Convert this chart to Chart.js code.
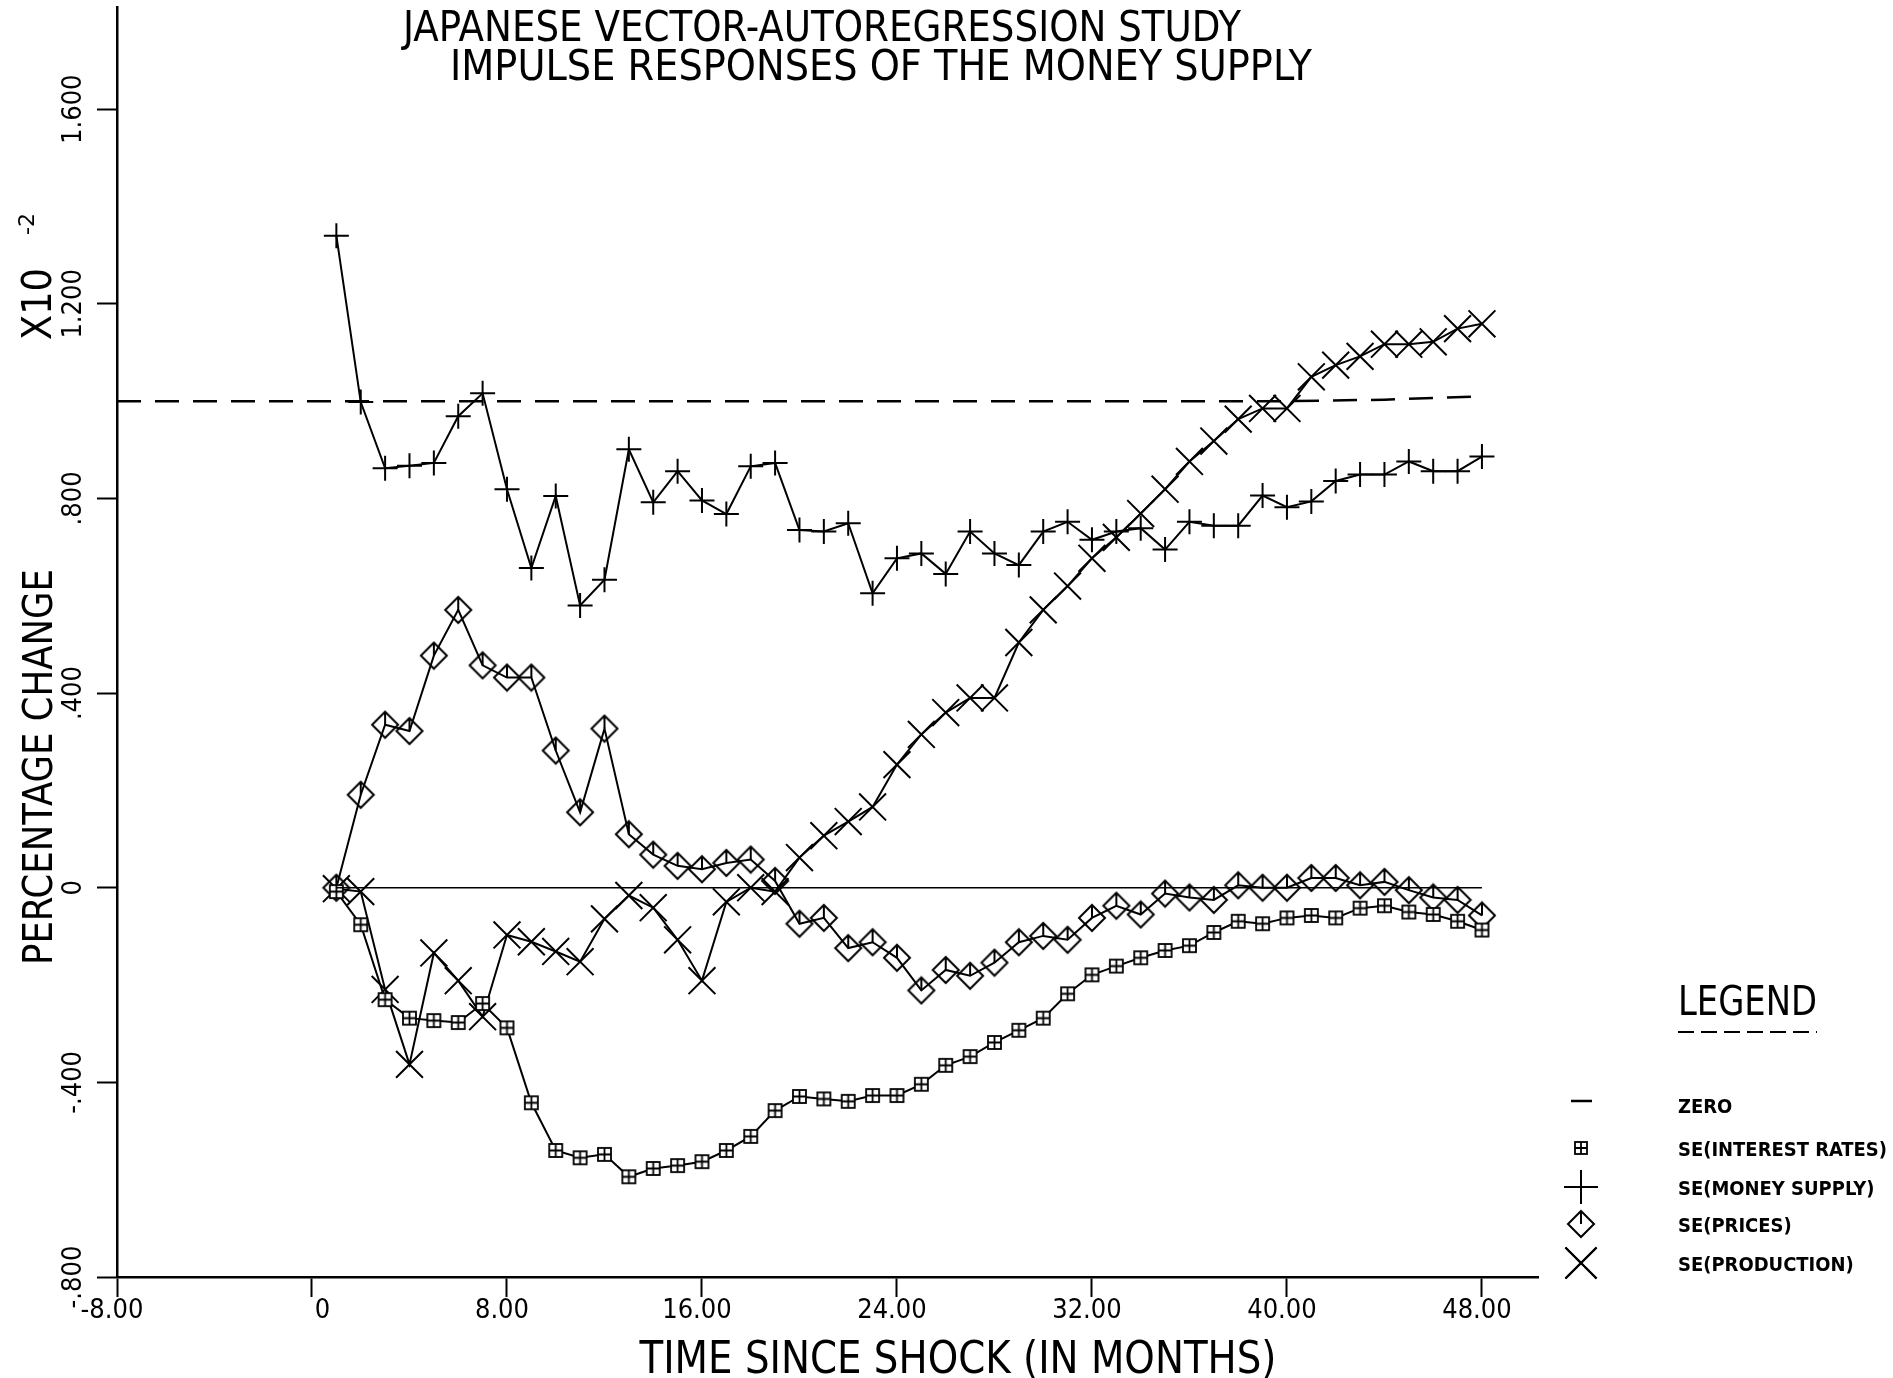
<!DOCTYPE html>
<html>
<head>
<meta charset="utf-8">
<title>Japanese Vector-Autoregression Study</title>
<script src="https://cdn.jsdelivr.net/npm/chart.js@4.4.1/dist/chart.umd.min.js"></script>
<style>
  html, body { margin: 0; padding: 0; background: #fff; }
  #wrap { width: 1893px; height: 1378px; position: relative; }
</style>
</head>
<body>
<div id="wrap"><canvas id="chart" width="1893" height="1378"></canvas></div>
<script>
// Months after the shock (one observation per month)
const months = [1, 2, 3, 4, 5, 6, 7, 8, 9, 10, 11, 12, 13, 14, 15, 16, 17, 18, 19, 20, 21, 22, 23, 24,
                25, 26, 27, 28, 29, 30, 31, 32, 33, 34, 35, 36, 37, 38, 39, 40, 41, 42, 43, 44, 45, 46, 47, 48];

// Responses, percentage change (x10^-2)
const interestRates = [-0.008, -0.076, -0.230, -0.268, -0.273, -0.277, -0.238, -0.288, -0.442, -0.540,
                       -0.555, -0.548, -0.594, -0.577, -0.571, -0.563, -0.540, -0.511, -0.458, -0.429,
                       -0.434, -0.439, -0.427, -0.427, -0.404, -0.365, -0.347, -0.318, -0.293, -0.268,
                       -0.218, -0.179, -0.161, -0.144, -0.129, -0.119, -0.092, -0.069, -0.074, -0.062,
                       -0.057, -0.062, -0.042, -0.037, -0.050, -0.055, -0.069, -0.087];
const moneySupply = [1.340, 0.998, 0.862, 0.867, 0.873, 0.969, 1.016, 0.819, 0.657, 0.805,
                     0.580, 0.633, 0.901, 0.792, 0.856, 0.796, 0.768, 0.866, 0.873, 0.735,
                     0.732, 0.749, 0.605, 0.677, 0.687, 0.645, 0.732, 0.687, 0.663, 0.732,
                     0.752, 0.715, 0.732, 0.739, 0.695, 0.752, 0.744, 0.744, 0.806, 0.782,
                     0.794, 0.836, 0.849, 0.849, 0.876, 0.856, 0.856, 0.886];
const prices = [0.000, 0.191, 0.335, 0.322, 0.477, 0.571, 0.457, 0.432, 0.432, 0.282,
                0.155, 0.327, 0.110, 0.068, 0.045, 0.038, 0.051, 0.058, 0.014, -0.074,
                -0.062, -0.124, -0.112, -0.144, -0.211, -0.169, -0.181, -0.154, -0.112, -0.099,
                -0.107, -0.062, -0.037, -0.055, -0.012, -0.020, -0.025, 0.005, 0.000, 0.000,
                0.020, 0.020, 0.005, 0.012, -0.005, -0.020, -0.025, -0.057];
const production = [-0.002, -0.008, -0.209, -0.363, -0.134, -0.191, -0.265, -0.097, -0.111, -0.131,
                    -0.152, -0.064, -0.016, -0.041, -0.107, -0.191, -0.029, 0.000, -0.008, 0.062,
                    0.107, 0.136, 0.166, 0.253, 0.315, 0.360, 0.390, 0.390, 0.504, 0.571,
                    0.620, 0.677, 0.720, 0.769, 0.819, 0.876, 0.918, 0.963, 0.985, 0.985,
                    1.050, 1.074, 1.092, 1.117, 1.117, 1.122, 1.149, 1.159];

// Zero reference and the dashed level line
const zeroMonths = [1, 48];
const zeroValues = [0, 0];
const levelMonths = [-8, 40, 44, 48];
const levelValues = [1.0, 1.0, 1.003, 1.01];

// Axis ticks and their printed labels
const xTicks = [-8, 0, 8, 16, 24, 32, 40, 48];
const xTickLabels = ['-8.00', '    0', '8.00', '16.00', '24.00', '32.00', '40.00', '48.00'];
const yTicks = [-0.8, -0.4, 0, 0.4, 0.8, 1.2, 1.6];
const yTickLabels = ['-.800', '-.400', '0', '.400', '.800', '1.200', '1.600'];

const FONT = '"Liberation Sans Narrow", "DejaVu Sans Condensed", "Liberation Sans", sans-serif';

const toPoints = (xs, ys) => xs.map((x, i) => ({ x: x, y: ys[i] }));

// Plotter-style marker glyphs
function diamondGlyph(r, lw) {
  const c = document.createElement('canvas');
  const s = Math.ceil(2 * r + lw + 2);
  c.width = s; c.height = s;
  const g = c.getContext('2d');
  const m = s / 2;
  g.strokeStyle = '#000'; g.lineWidth = lw; g.lineJoin = 'miter';
  g.beginPath();
  g.moveTo(m, m - r); g.lineTo(m + r, m); g.lineTo(m, m + r); g.lineTo(m - r, m); g.closePath();
  g.moveTo(m, m - r); g.lineTo(m, m);
  g.stroke();
  return c;
}
function boxGlyph(side, lw) {
  const c = document.createElement('canvas');
  const s = Math.ceil(side + lw + 2);
  c.width = s; c.height = s;
  const g = c.getContext('2d');
  const m = s / 2, h = side / 2;
  g.fillStyle = '#fff';
  g.fillRect(m - h, m - h, side, side);
  g.strokeStyle = '#000'; g.lineWidth = lw;
  g.strokeRect(m - h, m - h, side, side);
  g.beginPath();
  g.moveTo(m, m - h); g.lineTo(m, m + h);
  g.moveTo(m - h, m); g.lineTo(m + h, m);
  g.stroke();
  return c;
}

const diamondMark = diamondGlyph(13, 2);
const boxMark = boxGlyph(13, 1.8);
const diamondLegend = diamondGlyph(13, 2);
const boxLegend = boxGlyph(12, 1.8);

function fitText(ctx, str, o) {
  const size = o.cap / 0.72;
  ctx.save();
  ctx.font = (o.weight || 'normal') + ' ' + size + 'px ' + FONT;
  const w = ctx.measureText(str).width;
  const sx = o.width ? o.width / w : 1;
  ctx.translate(o.x, o.y);
  if (o.rotate) ctx.rotate(o.rotate);
  ctx.scale(sx, 1);
  ctx.textAlign = o.align || 'center';
  ctx.textBaseline = 'alphabetic';
  ctx.fillStyle = '#000';
  ctx.fillText(str, 0, 0);
  ctx.restore();
}

const legendItems = [
  { label: 'ZERO', y: 1111, symbol: 'dash' },
  { label: 'SE(INTEREST RATES)', y: 1154, symbol: { pointStyle: boxLegend, radius: 7 } },
  { label: 'SE(MONEY SUPPLY)', y: 1193, symbol: { pointStyle: 'cross', radius: 17, borderWidth: 2 } },
  { label: 'SE(PRICES)', y: 1230, symbol: { pointStyle: diamondLegend, radius: 14 } },
  { label: 'SE(PRODUCTION)', y: 1269, symbol: { pointStyle: 'crossRot', radius: 22, borderWidth: 2 } }
];

const plotterText = {
  id: 'plotterText',
  afterDraw(chart) {
    const ctx = chart.ctx;
    // Title
    fitText(ctx, 'JAPANESE VECTOR-AUTOREGRESSION STUDY', { x: 822, y: 41, width: 838, cap: 31 });
    fitText(ctx, 'IMPULSE RESPONSES OF THE MONEY SUPPLY', { x: 881, y: 80, width: 862, cap: 31 });
    // Vertical axis title and scale factor
    fitText(ctx, 'PERCENTAGE CHANGE', { x: 52, y: 767, width: 396, cap: 30, rotate: -Math.PI / 2 });
    fitText(ctx, 'X10', { x: 51, y: 304, width: 72, cap: 30, rotate: -Math.PI / 2 });
    fitText(ctx, '-2', { x: 34, y: 224, width: 22, cap: 15, rotate: -Math.PI / 2 });
    // Horizontal axis title
    fitText(ctx, 'TIME SINCE SHOCK (IN MONTHS)', { x: 958, y: 1373, width: 637, cap: 32 });

    // Legend block
    fitText(ctx, 'LEGEND', { x: 1678, y: 1015, width: 139, cap: 30, align: 'left' });
    ctx.save();
    ctx.strokeStyle = '#000';
    ctx.lineWidth = 2;
    ctx.setLineDash([16, 7]);
    ctx.beginPath();
    ctx.moveTo(1678, 1032); ctx.lineTo(1817, 1032);
    ctx.stroke();
    ctx.restore();

    ctx.save();
    ctx.font = 'bold 20px ' + FONT;
    const ref = ctx.measureText('SE(INTEREST RATES)').width;
    ctx.restore();
    const sx = 209 / ref;
    legendItems.forEach(item => {
      ctx.save();
      ctx.strokeStyle = '#000';
      ctx.fillStyle = '#000';
      if (item.symbol === 'dash') {
        ctx.lineWidth = 2.5;
        ctx.beginPath();
        ctx.moveTo(1571, item.y - 10); ctx.lineTo(1592, item.y - 10);
        ctx.stroke();
      } else {
        ctx.lineWidth = item.symbol.borderWidth || 2;
        Chart.helpers.drawPoint(ctx, {
          pointStyle: item.symbol.pointStyle,
          radius: item.symbol.radius,
          rotation: 0,
          borderWidth: item.symbol.borderWidth || 2
        }, 1581, item.y - 6);
        ctx.stroke();
      }
      ctx.restore();
      ctx.save();
      ctx.font = 'bold 20px ' + FONT;
      ctx.translate(1678, item.y + 2);
      ctx.scale(sx, 1);
      ctx.textAlign = 'left';
      ctx.textBaseline = 'alphabetic';
      ctx.fillStyle = '#000';
      ctx.fillText(item.label, 0, 0);
      ctx.restore();
    });
  }
};

const seriesStyle = {
  borderColor: '#000',
  backgroundColor: 'rgba(0,0,0,0)',
  borderWidth: 2,
  tension: 0,
  pointBorderColor: '#000',
  pointBackgroundColor: 'rgba(0,0,0,0)',
  pointBorderWidth: 2
};

const chart = new Chart(document.getElementById('chart'), {
  type: 'line',
  data: {
    datasets: [
      { label: 'LEVEL', data: toPoints(levelMonths, levelValues), borderColor: '#000', borderWidth: 2.5,
        borderDash: [24, 14], pointRadius: 0, tension: 0, fill: false },
      { label: 'ZERO', data: toPoints(zeroMonths, zeroValues), borderColor: '#000', borderWidth: 1.5,
        pointRadius: 0, tension: 0, fill: false },
      Object.assign({ label: 'SE(INTEREST RATES)', data: toPoints(months, interestRates),
        pointStyle: boxMark, pointRadius: 7 }, seriesStyle),
      Object.assign({ label: 'SE(MONEY SUPPLY)', data: toPoints(months, moneySupply),
        pointStyle: 'cross', pointRadius: 12.5 }, seriesStyle),
      Object.assign({ label: 'SE(PRICES)', data: toPoints(months, prices),
        pointStyle: diamondMark, pointRadius: 13 }, seriesStyle),
      Object.assign({ label: 'SE(PRODUCTION)', data: toPoints(months, production),
        pointStyle: 'crossRot', pointRadius: 19 }, seriesStyle)
    ]
  },
  options: {
    responsive: false,
    animation: false,
    devicePixelRatio: 1,
    layout: { autoPadding: false, padding: { left: 0, right: 355, top: 7, bottom: 0 } },
    plugins: {
      legend: { display: false },
      title: { display: false },
      tooltip: { enabled: false }
    },
    scales: {
      x: {
        type: 'linear',
        min: -8,
        max: 50.3,
        afterBuildTicks: s => { s.ticks = xTicks.map(v => ({ value: v })); },
        afterFit: s => { s.height = 101; s.paddingLeft = 0; s.paddingRight = 0; },
        grid: { drawOnChartArea: false, drawTicks: true, tickLength: 20, tickWidth: 2, tickColor: '#000' },
        border: { display: true, color: '#000', width: 2.5 },
        ticks: {
          autoSkip: false, maxRotation: 0, minRotation: 0, padding: 0, labelOffset: -5, color: '#000',
          font: { family: FONT, size: 27, lineHeight: 1 },
          callback: (v, i) => xTickLabels[i]
        }
      },
      y: {
        type: 'linear',
        min: -0.8,
        max: 1.81,
        afterBuildTicks: s => { s.ticks = yTicks.map(v => ({ value: v })); },
        afterFit: s => { s.width = 117; s.paddingTop = 0; s.paddingBottom = 0; },
        grid: { drawOnChartArea: false, drawTicks: true, tickLength: 20, tickWidth: 2, tickColor: '#000' },
        border: { display: true, color: '#000', width: 2.5 },
        ticks: {
          autoSkip: false, minRotation: 90, maxRotation: 90, crossAlign: 'center', padding: -12,
          color: '#000', font: { family: FONT, size: 27, lineHeight: 1 },
          callback: (v, i) => yTickLabels[i]
        }
      }
    }
  },
  plugins: [plotterText]
});
</script>
</body>
</html>
